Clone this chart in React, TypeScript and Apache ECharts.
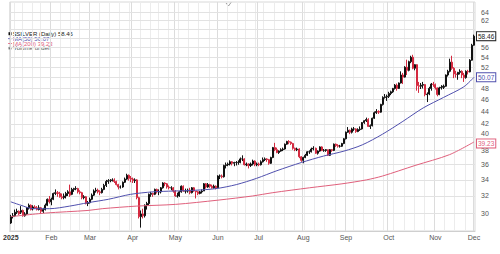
import React, { useEffect, useRef } from 'react';
import * as echarts from 'echarts';

// Trading days per month (2025)
const janDays = [2,3,6,7,8,10,13,14,15,16,17,21,22,23,24,27,28,29,30,31];
const febDays = [3,4,5,6,7,10,11,12,13,14,18,19,20,21,24,25,26,27,28];
const marDays = [3,4,5,6,7,10,11,12,13,14,17,18,19,20,21,24,25,26,27,28,31];
const aprDays = [1,2,3,4,7,8,9,10,11,14,15,16,17,21,22,23,24,25,28,29,30];
const mayDays = [1,2,5,6,7,8,9,12,13,14,15,16,19,20,21,22,23,27,28,29,30];
const junDays = [2,3,4,5,6,9,10,11,12,13,16,17,18,20,23,24,25,26,27,30];
const julDays = [1,2,3,7,8,9,10,11,14,15,16,17,18,21,22,23,24,25,28,29,30,31];
const augDays = [1,4,5,6,7,8,11,12,13,14,15,18,19,20,21,22,25,26,27,28,29];
const sepDays = [2,3,4,5,8,9,10,11,12,15,16,17,18,19,22,23,24,25,26,29,30];
const octDays = [1,2,3,6,7,8,9,10,13,14,15,16,17,20,21,22,23,24,27,28,29,30,31];
const novDays = [3,4,5,6,7,10,11,12,13,14,17,18,19,20,21,24,25,26,28];
const decDays = [1];

// [open, close, low, high]
const jan = [[28.9,29.6,28.8,29.8],[29.6,29.7,29.4,30.0],[29.7,30.1,29.6,30.4],[30.1,30.2,29.9,30.5],[30.2,29.9,29.8,30.3],[30.1,30.3,29.9,30.8],[30.3,29.7,29.6,30.4],[29.7,29.9,29.6,30.1],[29.9,30.6,29.8,30.7],[30.6,30.9,30.4,31.1],[30.9,30.4,30.3,31.0],[30.5,30.7,30.3,30.9],[30.7,30.6,30.5,30.9],[30.6,30.4,30.3,30.8],[30.4,30.6,30.3,30.9],[30.6,30.2,29.9,30.7],[30.2,30.4,30.0,30.6],[30.4,30.9,30.3,31.1],[30.9,31.6,30.8,31.7],[31.6,31.3,31.1,32.0]];
const feb = [[31.3,31.6,30.9,31.8],[31.6,32.3,31.5,32.4],[32.3,32.4,32.1,32.8],[32.4,32.3,31.9,32.6],[32.3,31.9,31.8,32.5],[31.9,31.8,31.6,32.3],[31.8,32.0,31.6,32.3],[32.0,32.3,31.7,32.5],[32.3,32.5,32.0,32.7],[32.5,32.1,31.9,33.4],[32.2,32.8,32.1,33.0],[32.8,32.9,32.5,33.0],[32.9,32.9,32.7,33.2],[32.9,32.5,32.3,33.0],[32.5,32.4,32.2,32.7],[32.4,31.8,31.6,32.5],[31.8,31.9,31.6,32.1],[31.9,31.1,31.0,32.0],[31.1,31.2,30.8,31.4]];
const mar = [[31.2,31.6,31.1,31.8],[31.6,32.1,31.5,32.3],[32.1,32.6,32.0,32.8],[32.6,32.7,32.4,33.0],[32.7,32.5,32.3,32.9],[32.5,32.4,32.1,32.7],[32.4,32.8,32.3,33.0],[32.8,33.3,32.7,33.5],[33.3,33.8,33.1,34.0],[33.8,33.9,33.5,34.1],[33.9,33.9,33.7,34.1],[33.9,34.0,33.8,34.2],[34.0,33.8,33.6,34.2],[33.8,33.4,33.3,33.9],[33.4,33.1,32.8,33.5],[33.1,33.1,32.9,33.3],[33.1,33.7,33.0,33.8],[33.7,34.1,33.6,34.3],[34.1,34.6,34.0,34.8],[34.6,34.2,33.9,34.7],[34.2,34.1,33.7,34.5]];
const apr = [[34.1,33.9,33.6,34.3],[33.9,34.0,33.6,34.2],[34.0,31.8,31.6,34.1],[31.8,29.6,29.4,31.9],[29.6,29.9,28.4,30.3],[29.9,29.7,29.4,30.5],[29.7,30.9,29.5,31.0],[30.9,31.1,30.4,31.3],[31.1,32.2,30.9,32.3],[32.2,32.3,31.9,32.5],[32.3,32.2,31.9,32.4],[32.2,32.8,32.1,32.9],[32.8,32.5,32.3,32.9],[32.5,32.5,32.1,32.8],[32.5,33.0,32.3,33.1],[33.0,33.6,32.9,33.7],[33.6,33.5,33.2,33.7],[33.5,33.1,32.9,33.6],[33.1,33.0,32.8,33.3],[33.0,33.0,32.7,33.2],[33.0,32.6,32.4,33.1]];
const may = [[32.6,32.0,31.9,32.7],[32.0,32.0,31.8,32.4],[32.0,32.5,31.9,32.6],[32.5,33.2,32.4,33.3],[33.2,32.6,32.5,33.3],[32.6,32.6,32.3,32.9],[32.6,32.7,32.4,32.9],[32.7,32.4,32.2,33.0],[32.4,33.0,32.3,33.1],[33.0,32.6,32.5,33.1],[32.6,32.5,31.7,32.6],[32.5,32.3,32.1,32.6],[32.3,32.5,32.2,32.6],[32.5,32.6,32.3,32.8],[32.6,33.5,32.6,33.6],[33.5,33.1,32.9,33.6],[33.1,33.4,33.0,33.6],[33.4,33.2,33.0,33.5],[33.2,33.0,32.9,33.4],[33.0,33.2,32.9,33.4],[33.2,33.0,32.8,33.3]];
const jun = [[33.0,34.5,33.0,34.6],[34.5,34.5,34.1,34.7],[34.5,34.4,34.2,34.7],[34.4,35.9,34.3,36.0],[35.9,36.0,35.5,36.3],[36.0,36.1,35.8,36.3],[36.1,36.4,35.9,36.6],[36.4,36.2,35.9,36.5],[36.2,36.3,35.8,36.4],[36.3,36.3,35.9,36.5],[36.3,36.3,36.0,36.6],[36.3,36.8,36.2,37.0],[36.8,36.8,36.5,37.3],[36.8,36.0,35.9,36.9],[36.0,36.1,35.8,36.3],[36.1,35.9,35.5,36.2],[35.9,36.1,35.7,36.3],[36.1,36.5,35.9,36.7],[36.5,36.0,35.8,36.6],[36.0,36.1,35.8,36.3]];
const jul = [[36.1,36.0,35.8,36.3],[36.0,36.4,35.9,36.6],[36.4,36.7,36.3,37.0],[36.7,36.8,36.5,37.0],[36.8,36.7,36.4,36.9],[36.7,36.2,36.0,36.8],[36.2,37.0,36.1,37.1],[37.0,38.4,36.9,38.5],[38.4,38.1,37.9,39.1],[38.1,37.7,37.6,38.4],[37.7,37.9,37.5,38.0],[37.9,38.1,37.8,38.3],[38.1,38.2,37.9,38.4],[38.2,38.9,38.1,39.0],[38.9,39.3,38.8,39.4],[39.3,39.2,38.9,39.5],[39.2,39.0,38.8,39.3],[39.0,38.3,38.1,39.1],[38.3,38.1,37.9,38.4],[38.1,38.2,37.9,38.4],[38.2,37.1,36.9,38.3],[37.1,36.6,36.4,37.2]];
const aug = [[36.6,37.0,36.2,37.1],[37.0,37.3,36.9,37.5],[37.3,37.8,37.2,37.9],[37.8,37.8,37.5,38.0],[37.8,38.2,37.7,38.4],[38.2,38.3,38.0,38.6],[38.3,37.6,37.5,38.4],[37.6,37.9,37.4,38.0],[37.9,38.5,37.8,38.6],[38.5,38.0,37.9,38.6],[38.0,38.0,37.8,38.2],[38.0,38.1,37.8,38.2],[38.1,37.3,37.2,38.1],[37.3,38.1,37.2,38.2],[38.1,38.0,37.8,38.2],[38.0,38.9,37.9,39.0],[38.9,38.7,38.5,39.0],[38.7,38.6,38.4,38.9],[38.6,38.6,38.4,38.8],[38.6,39.0,38.5,39.1],[39.0,39.7,38.9,39.8]];
const sep = [[39.7,40.7,39.6,40.8],[40.7,41.0,40.6,41.5],[41.0,40.7,40.4,41.1],[40.7,41.2,40.5,41.4],[41.2,41.2,40.9,41.5],[41.2,40.8,40.6,41.3],[40.8,41.1,40.7,41.3],[41.1,41.2,40.9,41.6],[41.2,42.2,41.1,42.3],[42.2,42.5,42.0,42.6],[42.5,42.7,42.3,43.0],[42.7,41.6,41.5,42.9],[41.6,41.7,41.2,41.9],[41.7,42.9,41.6,43.0],[42.9,43.8,42.8,44.0],[43.8,44.0,43.6,44.4],[44.0,43.9,43.6,44.2],[43.9,45.2,43.8,45.3],[45.2,46.4,45.0,46.6],[46.4,46.5,46.2,47.0],[46.5,46.6,45.8,46.9]];
const oct = [[46.6,47.1,46.3,47.4],[47.1,47.4,46.8,47.6],[47.4,48.0,47.2,48.1],[48.0,48.6,47.8,48.8],[48.6,48.0,47.6,48.9],[48.0,49.0,47.9,49.1],[49.0,50.5,48.9,51.2],[50.5,50.1,48.8,50.9],[50.1,52.0,50.0,52.2],[52.0,51.4,50.5,53.5],[51.4,53.1,51.2,53.3],[53.1,54.0,52.8,54.3],[54.0,51.8,51.6,54.5],[51.8,52.5,51.4,52.6],[52.5,48.5,47.6,52.6],[48.5,48.4,47.2,49.2],[48.4,48.6,47.9,49.0],[48.6,48.7,48.0,49.2],[48.7,46.9,46.6,48.8],[46.9,47.0,45.6,47.3],[47.0,48.0,46.8,48.3],[48.0,48.8,47.6,49.0],[48.8,48.7,48.3,49.2]];
const nov = [[48.7,48.1,47.8,48.9],[48.1,46.9,46.6,48.2],[46.9,48.1,46.8,48.3],[48.1,48.2,47.8,48.6],[48.2,48.4,47.9,48.7],[48.4,50.5,48.3,50.6],[50.5,51.2,50.2,51.5],[51.2,53.0,51.0,53.7],[53.0,51.8,51.5,54.3],[51.8,50.7,49.9,52.0],[50.7,50.6,50.0,51.3],[50.6,51.0,49.6,51.1],[51.0,51.2,50.6,51.6],[51.2,50.5,49.9,51.4],[50.5,50.0,49.2,50.9],[50.0,51.2,49.8,51.4],[51.2,51.1,50.6,51.5],[51.1,53.4,51.0,53.6],[53.4,56.5,53.3,56.8]];
const dec = [[56.5,58.46,56.4,58.8]];

// Moving averages
const ma50Dates = ['2025-01-02','2025-01-10','2025-01-21','2025-01-31','2025-02-14','2025-02-28','2025-03-14','2025-03-31','2025-04-15','2025-04-30','2025-05-15','2025-05-30','2025-06-13','2025-06-30','2025-07-15','2025-07-31','2025-08-15','2025-08-29','2025-09-12','2025-09-26','2025-10-10','2025-10-24','2025-11-07','2025-11-21','2025-12-01'];
const ma50Values = [31.3,30.9,30.5,30.5,30.8,31.2,31.6,32.2,32.5,32.6,32.7,32.9,33.4,34.2,35.2,36.3,37.2,37.9,38.8,40.4,42.4,44.6,46.4,48.3,50.07];
const ma200Dates = ['2025-01-02','2025-01-29','2025-02-28','2025-03-11','2025-04-03','2025-05-01','2025-06-02','2025-06-26','2025-07-11','2025-08-06','2025-08-28','2025-09-16','2025-09-26','2025-10-20','2025-11-12','2025-12-01'];
const ma200Values = [29.6,30.0,30.3,30.5,30.8,31.0,31.5,32.0,32.4,33.0,33.5,34.0,34.5,35.9,37.4,39.23];

const gridTicks = [30,32,34,36,38,40,42,44,46,48,50,52,54,56,58,60,62,64];
const labelTicks = [30,32,34,36,38,40,42,44,46,48,52,54,56,62,64];
const monthLabels = ['2025','Feb','Mar','Apr','May','Jun','Jul','Aug','Sep','Oct','Nov','Dec'];

const FONT = '"Liberation Sans", Arial, sans-serif';
const BLUE = '#5050ae';
const RED = '#e0607c';
const CANDLE_RED = '#d42a40';

export default function App() {
  const ref = useRef<HTMLDivElement>(null);
  useEffect(() => {
    if (!ref.current) return;
    const chart = echarts.init(ref.current, null, { renderer: 'svg' });
    const monthDays = [janDays,febDays,marDays,aprDays,mayDays,junDays,julDays,augDays,sepDays,octDays,novDays,decDays];
    const monthData = [jan,feb,mar,apr,may,jun,jul,aug,sep,oct,nov,dec];
    const pad = (n: number) => (n < 10 ? '0' + n : '' + n);
    const dates: string[] = [];
    const ohlc: number[][] = [];
    const monthStart = new Set<number>();
    monthDays.forEach((days, m) => {
      days.forEach((d, k) => {
        if (k === 0) monthStart.add(dates.length);
        dates.push(`2025-${pad(m + 1)}-${pad(d)}`);
        ohlc.push(monthData[m][k]);
      });
    });
    const weekStart = new Set<number>();
    dates.forEach((d, i) => {
      if (i === 0) { weekStart.add(0); return; }
      const a = new Date(dates[i - 1] + 'T00:00:00Z').getUTCDay();
      const b = new Date(d + 'T00:00:00Z').getUTCDay();
      if (b <= a) weekStart.add(i);
    });
    const lastClose = ohlc[ohlc.length - 1][1];
    const lastMa50 = ma50Values[ma50Values.length - 1];
    const lastMa200 = ma200Values[ma200Values.length - 1];

    const boxLabel = (color: string) => ({
      show: true, position: 'end', distance: 2, formatter: (p: any) => Number(p.value).toFixed(2),
      fontSize: 6.5, fontFamily: FONT, color, backgroundColor: '#fff', borderColor: color,
      borderWidth: 1, padding: [1, 1, 0, 1], lineHeight: 7,
    });
    const hidden = { color: 'rgba(0,0,0,0)', width: 0 };

    const legendRows = [
      { text: `$SILVER (Daily) ${lastClose}`, color: '#222' },
      { text: `MA(50) ${lastMa50}`, color: BLUE },
      { text: `MA(200) ${lastMa200}`, color: RED },
      { text: 'Volume undef', color: '#555' },
    ];
    const legendGraphics: any[] = [];
    legendRows.forEach((r, i) => {
      const top = 31 + i * 4.8;
      if (i === 0) legendGraphics.push({ type: 'rect', left: 8.5, top: top + 1.2, shape: { width: 3, height: 3 }, style: { fill: '#111' } });
      else if (i === 3) legendGraphics.push({ type: 'rect', left: 8.5, top: top + 1.5, shape: { width: 3, height: 2.5 }, style: { fill: '#777' } });
      else legendGraphics.push({ type: 'rect', left: 8, top: top + 2.5, shape: { width: 4, height: 0.8 }, style: { fill: r.color } });
      legendGraphics.push({ type: 'text', left: 13, top, style: { text: r.text, fontSize: 6, fontFamily: FONT, fill: r.color } });
    });

    chart.setOption({
      animation: false,
      backgroundColor: '#fff',
      grid: { left: 4, right: 25, top: 2, bottom: 23, show: true, borderColor: '#d8d8d8', borderWidth: 1 },
      xAxis: [
        {
          type: 'category', data: dates, boundaryGap: true,
          axisLine: { show: true, lineStyle: { color: '#cfcfcf' } },
          axisTick: { show: false },
          axisLabel: {
            interval: (i: number) => monthStart.has(i),
            formatter: (v: string) => {
              const m = parseInt(v.slice(5, 7), 10);
              return m === 1 ? '{y|' + monthLabels[0] + '}' : monthLabels[m - 1];
            },
            alignMinLabel: 'center', alignMaxLabel: 'center', hideOverlap: false,
            fontSize: 7, fontFamily: FONT, color: '#555', margin: 3,
            rich: { y: { fontSize: 7, fontWeight: 'bold', color: '#333', fontFamily: FONT } },
          },
          splitLine: { show: true, interval: (i: number) => monthStart.has(i), lineStyle: { color: '#dcdcdc', width: 1 } },
        },
        {
          type: 'category', data: dates, boundaryGap: true, position: 'bottom',
          axisLine: { show: false }, axisTick: { show: false }, axisLabel: { show: false },
          splitLine: { show: true, interval: (i: number) => weekStart.has(i) && !monthStart.has(i), lineStyle: { color: '#ececec', width: 1 } },
        },
      ],
      yAxis: {
        type: 'log', logBase: 10, min: 28.04, max: 66.5, position: 'right',
        axisLine: { show: false }, axisTick: { show: false }, axisLabel: { show: false }, splitLine: { show: false },
      },
      graphic: [
        ...legendGraphics,
        { type: 'polyline', shape: { points: [[226, 3], [228.5, 6], [231, 2.5]] }, style: { stroke: '#888', lineWidth: 0.8, fill: 'none' } },
      ],
      series: [
        {
          name: 'grid', type: 'line', data: [], z: 1,
          markLine: {
            z: 1, silent: true, symbol: ['none', 'none'],
            lineStyle: { color: '#e2e2e2', width: 1, type: 'solid' },
            label: { show: true, position: 'end', distance: 6, fontSize: 7, fontFamily: FONT, color: '#555', formatter: (p: any) => String(p.value) },
            data: gridTicks.map((v) => ({
              yAxis: v,
              label: { show: labelTicks.includes(v), offset: v === 40 ? [0, -3] : [0, 0] },
            })),
          },
        },
        {
          name: '$SILVER', type: 'candlestick', data: ohlc, barWidth: '75%', z: 3,
          itemStyle: { color: '#111', color0: CANDLE_RED, borderColor: '#111', borderColor0: CANDLE_RED, borderWidth: 1 },
          markLine: {
            z: 8, silent: true, symbol: ['none', 'none'], lineStyle: hidden,
            label: boxLabel('#222'), data: [{ yAxis: lastClose }],
          },
        },
        {
          name: 'MA(50)', type: 'line', data: ma50Dates.map((d, i) => [d, ma50Values[i]]), smooth: 0.3,
          showSymbol: false, symbol: 'none', lineStyle: { color: BLUE, width: 1 }, z: 4,
          markLine: {
            z: 8, silent: true, symbol: ['none', 'none'], lineStyle: hidden,
            label: boxLabel(BLUE), data: [{ yAxis: lastMa50 }],
          },
        },
        {
          name: 'MA(200)', type: 'line', data: ma200Dates.map((d, i) => [d, ma200Values[i]]), smooth: 0.3,
          showSymbol: false, symbol: 'none', lineStyle: { color: RED, width: 1 }, z: 4,
          markLine: {
            z: 8, silent: true, symbol: ['none', 'none'], lineStyle: hidden,
            label: { ...boxLabel(RED), offset: [0, 1.5] }, data: [{ yAxis: lastMa200 }],
          },
        },
      ],
    });
    return () => chart.dispose();
  }, []);
  return <div ref={ref} style={{ position: 'fixed', left: 0, top: 0, width: 500, height: 254, background: '#fff' }} />;
}
